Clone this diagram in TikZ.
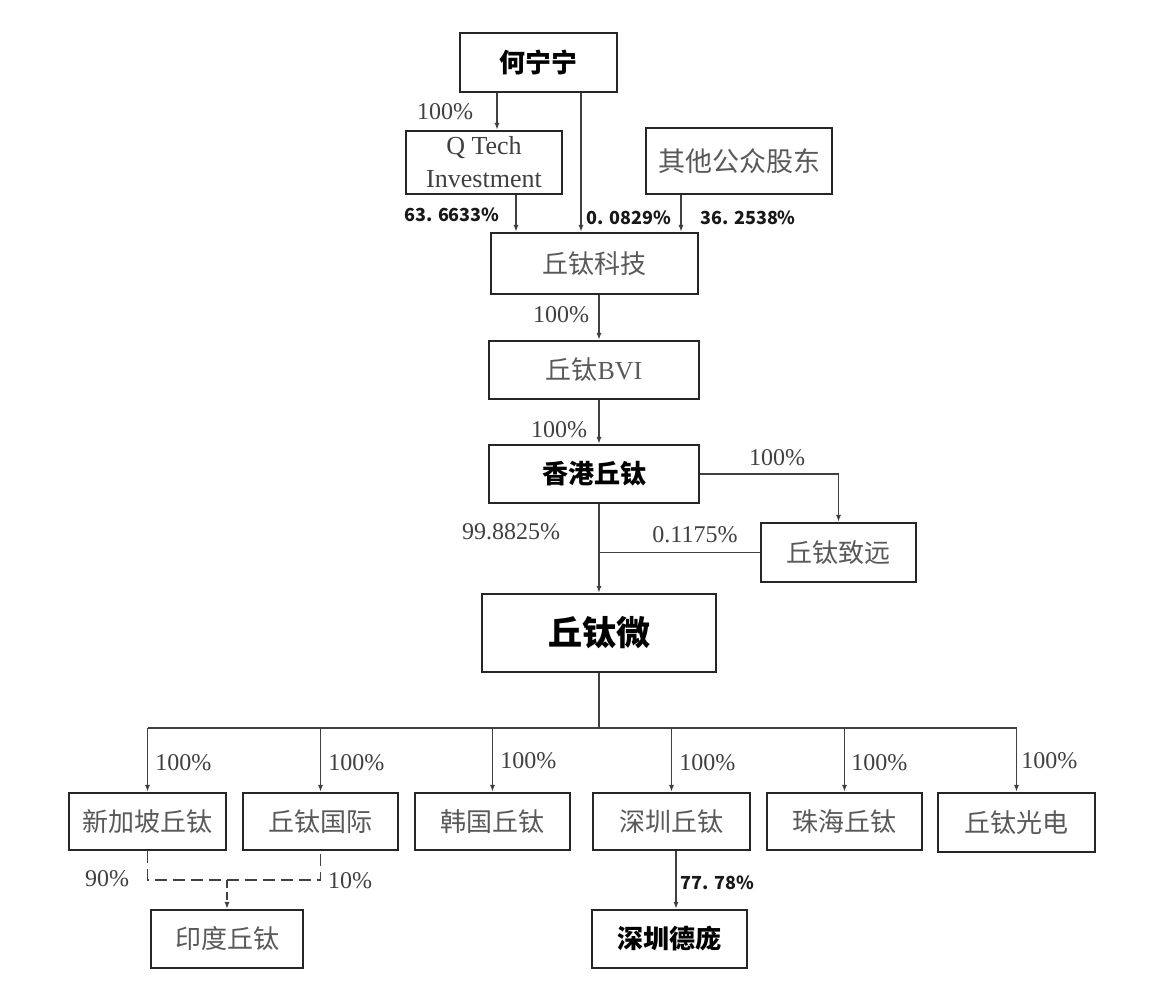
\documentclass[tikz,border=0pt]{standalone}
\usepackage{fontspec}
\setmainfont{Liberation Serif}
\newfontfamily\cjk{Noto Sans CJK SC}
\usetikzlibrary{arrows.meta}

\begin{document}
\begin{tikzpicture}[x=0.5pt, y=-0.5pt,
  box/.style={draw=black!85, line width=1pt, inner sep=0pt, text=black!65, font=\cjk\fontsize{13}{15}\selectfont},
  bbox/.style={box, text=black, font=\cjk\bfseries\fontsize{13}{15}\selectfont},
  pct/.style={inner sep=0pt, text=black!75, font=\fontsize{12}{14}\selectfont},
  bpct/.style={inner sep=0pt, text=black!90, font=\cjk\bfseries\fontsize{9}{11}\selectfont},
  link/.style={draw=black!75, line width=0.85pt},
  arr/.style={link, -{Latex[length=3.5pt,width=2.5pt]}},
]

\fill[white] (0,0) rectangle (1152,1004);
\useasboundingbox (0,0) rectangle (1152,1004);

% shareholders
\node[bbox, minimum width=78.5pt, minimum height=29.5pt] (hening) at (538.5,62.5) {何宁宁};
\node[box, minimum width=78pt, minimum height=31.5pt, align=center, text=black!75, font=\fontsize{13}{16.5}\selectfont] (qtech) at (484,162.5) {Q Tech\\Investment};
\node[box, minimum width=93pt, minimum height=33pt, font=\cjk\fontsize{13.5}{15}\selectfont] (gongzhong) at (739,161) {其他公众股东};

% holding chain
\node[box, minimum width=103.5pt, minimum height=30.5pt] (keji) at (594.5,263.5) {丘钛科技};
\node[box, minimum width=105pt, minimum height=29pt] (bvi) at (594,370) {丘钛{\rmfamily BVI}};
\node[bbox, minimum width=105pt, minimum height=29pt] (xianggang) at (594,474) {香港丘钛};
\node[box, minimum width=77.5pt, minimum height=29.5pt] (zhiyuan) at (838.5,552.5) {丘钛致远};
\node[bbox, minimum width=117pt, minimum height=39pt, font=\cjk\bfseries\fontsize{17}{20}\selectfont] (wei) at (599,633) {丘钛微};

% subsidiaries
\node[box, minimum width=78.5pt, minimum height=28.5pt] (xinjiapo) at (147.5,821.5) {新加坡丘钛};
\node[box, minimum width=77.5pt, minimum height=28.5pt] (guoji) at (320.5,821.5) {丘钛国际};
\node[box, minimum width=77.5pt, minimum height=28.5pt] (hanguo) at (492.5,821.5) {韩国丘钛};
\node[box, minimum width=78.5pt, minimum height=28.5pt] (shenzhen) at (671.5,821.5) {深圳丘钛};
\node[box, minimum width=77.5pt, minimum height=28.5pt] (zhuhai) at (844.5,821.5) {珠海丘钛};
\node[box, minimum width=78.5pt, minimum height=29.5pt] (guangdian) at (1016.5,822.5) {丘钛光电};
\node[box, minimum width=76pt, minimum height=29pt] (yindu) at (227,939) {印度丘钛};
\node[bbox, minimum width=77.5pt, minimum height=29pt] (depang) at (669.5,939) {深圳德庞};

% columns and joints
\coordinate (xq) at (497,0);
\coordinate (xh) at (581,0);
\coordinate (xt) at (516,0);
\coordinate (xg) at (681,0);
\coordinate (xm) at (599,0);
\coordinate (xs) at (676,0);
\coordinate (bus) at (599,728);
\coordinate (dash) at (227,880);

\draw[arr] (hening.south -| xq) -- (qtech.north -| xq);
\draw[arr] (hening.south -| xh) -- (keji.north -| xh);
\draw[arr] (qtech.south -| xt) -- (keji.north -| xt);
\draw[arr] (gongzhong.south -| xg) -- (keji.north -| xg);
\draw[arr] (keji.south -| xm) -- (bvi.north -| xm);
\draw[arr] (bvi.south -| xm) -- (xianggang.north -| xm);
\draw[arr] (xianggang.east) -| (zhiyuan.north);
\draw[arr] (xianggang.south -| xm) -- (wei.north -| xm);
\draw[link] (zhiyuan.west) -- (zhiyuan.west -| xm);

\draw[link] (wei.south -| xm) -- (bus);
\draw[link] (bus -| xinjiapo.north) -- (bus -| guangdian.north);
\draw[arr] (bus -| xinjiapo.north) -- (xinjiapo.north);
\draw[arr] (bus -| guoji.north) -- (guoji.north);
\draw[arr] (bus -| hanguo.north) -- (hanguo.north);
\draw[arr] (bus -| shenzhen.north) -- (shenzhen.north);
\draw[arr] (bus -| zhuhai.north) -- (zhuhai.north);
\draw[arr] (bus -| guangdian.north) -- (guangdian.north);

\draw[link, dash pattern=on 6pt off 3pt] (xinjiapo.south) -- (dash -| xinjiapo.south) -- (dash -| guoji.south) -- (guoji.south);
\draw[arr, dash pattern=on 4pt off 2pt] (dash) -- (yindu.north -| dash);
\draw[arr] (shenzhen.south -| xs) -- (depang.north -| xs);

% shares
\node[pct] (p1) at (445,112) {100\%};
\node[bpct, anchor=east] (p2) at (500,215) {63. 6633\%};
\node[bpct, anchor=west] (p3) at (586,218) {0. 0829\%};
\node[bpct, anchor=west] (p4) at (700,218) {36. 2538\%};
\node[pct] (p5) at (561,315) {100\%};
\node[pct] (p6) at (559,430) {100\%};
\node[pct] (p7) at (777,458) {100\%};
\node[pct] (p8) at (511,532) {99.8825\%};
\node[pct] (p9) at (695,535) {0.1175\%};
\node[pct, anchor=west] (s1) at (155,763) {100\%};
\node[pct, anchor=west] (s2) at (328,763) {100\%};
\node[pct, anchor=west] (s3) at (500,761) {100\%};
\node[pct, anchor=west] (s4) at (679,763) {100\%};
\node[pct, anchor=west] (s5) at (851,763) {100\%};
\node[pct, anchor=west] (s6) at (1021,761) {100\%};
\node[pct] (p90) at (107,879) {90\%};
\node[pct] (p10) at (350,881) {10\%};
\node[bpct, anchor=west] (p11) at (680,883) {77. 78\%};

\end{tikzpicture}
\end{document}
